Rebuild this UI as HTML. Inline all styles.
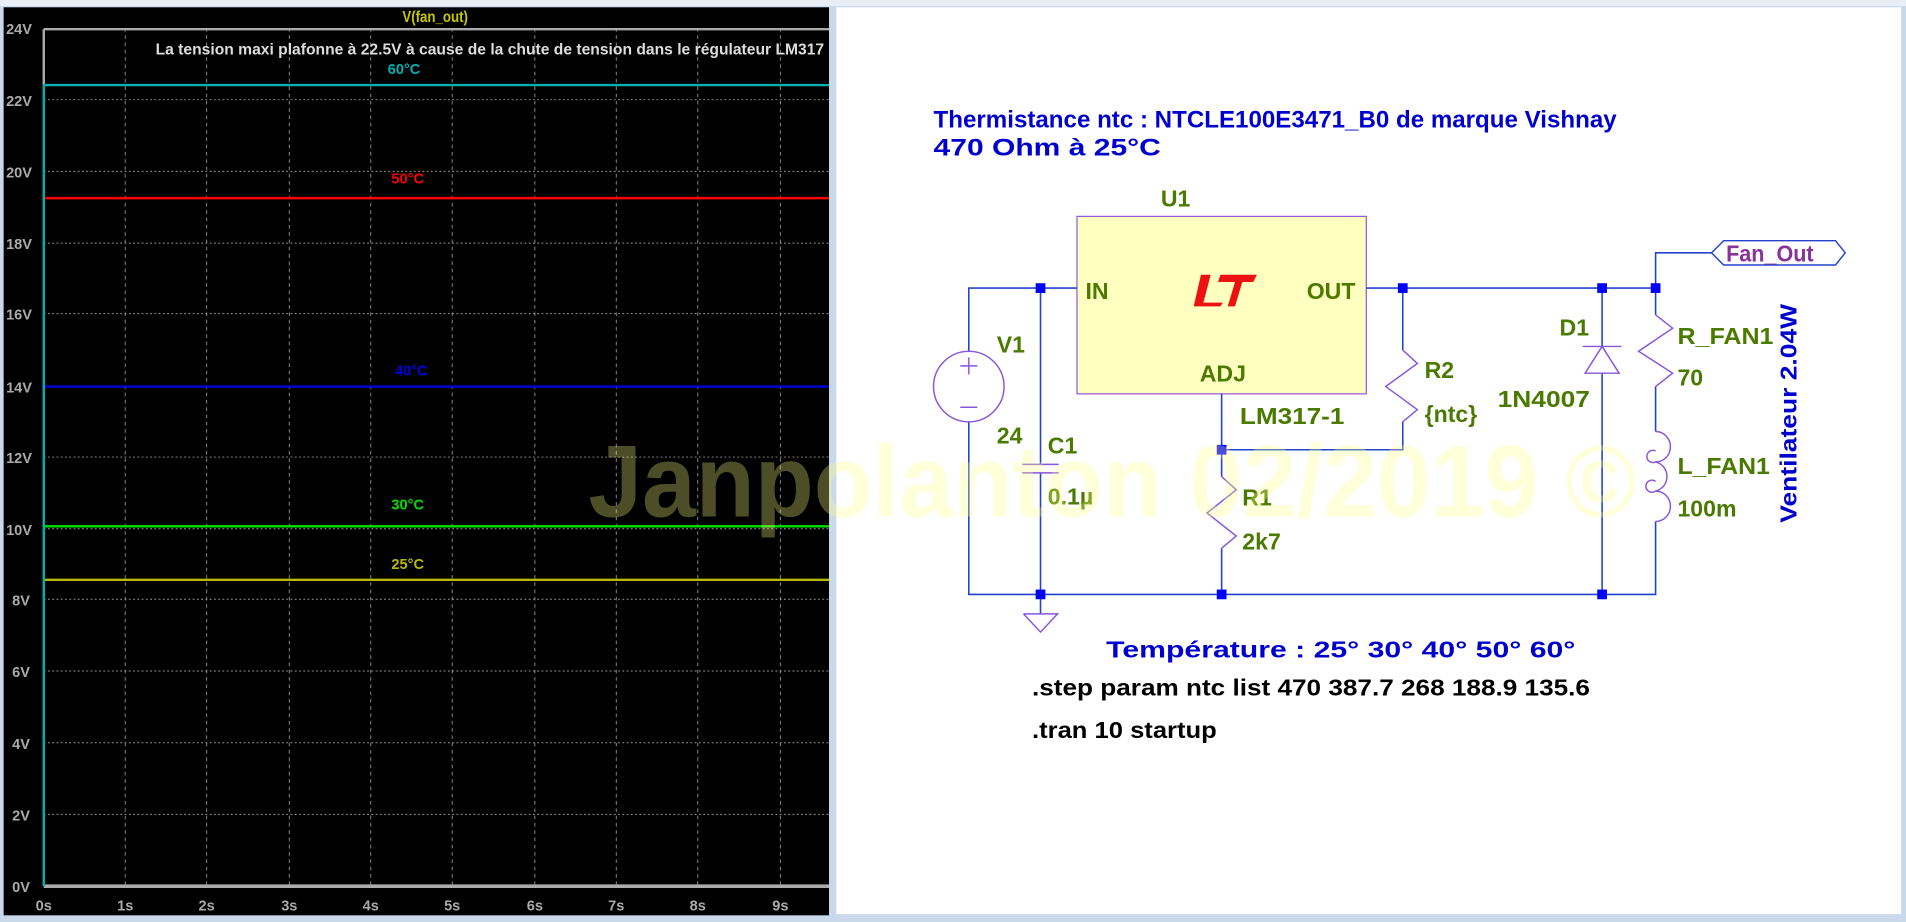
<!DOCTYPE html>
<html><head><meta charset="utf-8"><style>
html,body{margin:0;padding:0;background:#dbe6f2;overflow:hidden}
svg{display:block}
text{font-family:"Liberation Sans",sans-serif;font-weight:bold}
</style></head><body>
<svg width="1906" height="922" viewBox="0 0 1568 758.5" xmlns="http://www.w3.org/2000/svg">
<rect x="0" y="0" width="1568" height="758.5" fill="#c9d8ea"/>
<rect x="0" y="0" width="1568" height="5" fill="#e8eef6"/>
<!-- left plot -->
<rect x="3" y="6" width="679" height="747" fill="#000"/>
<text x="358" y="18" font-size="13" fill="#c8c800" text-anchor="middle" font-weight="normal" textLength="54" lengthAdjust="spacingAndGlyphs">V(fan_out)</text>
<g stroke="#888" stroke-width="0.8" stroke-dasharray="3,3">
<line x1="103" y1="23" x2="103" y2="729"/><line x1="170" y1="23" x2="170" y2="729"/><line x1="238" y1="23" x2="238" y2="729"/><line x1="305" y1="23" x2="305" y2="729"/><line x1="372" y1="23" x2="372" y2="729"/><line x1="440" y1="23" x2="440" y2="729"/><line x1="507" y1="23" x2="507" y2="729"/><line x1="574" y1="23" x2="574" y2="729"/><line x1="642" y1="23" x2="642" y2="729"/>
</g>
<g stroke="#999" stroke-width="0.8" stroke-dasharray="1.5,2">
<line x1="36" y1="82" x2="682" y2="82"/><line x1="36" y1="141" x2="682" y2="141"/><line x1="36" y1="200" x2="682" y2="200"/><line x1="36" y1="258" x2="682" y2="258"/><line x1="36" y1="376" x2="682" y2="376"/><line x1="36" y1="435" x2="682" y2="435"/><line x1="36" y1="493" x2="682" y2="493"/><line x1="36" y1="552" x2="682" y2="552"/><line x1="36" y1="611" x2="682" y2="611"/><line x1="36" y1="670" x2="682" y2="670"/>
</g>
<line x1="36" y1="24" x2="682" y2="24" stroke="#aaa" stroke-width="2"/>
<line x1="36" y1="24" x2="36" y2="70" stroke="#aaa" stroke-width="2"/>
<line x1="36" y1="729" x2="682" y2="729" stroke="#aaa" stroke-width="3"/>
<g font-size="12" fill="#aaa" font-weight="normal">
<text x="5" y="28">24V</text><text x="5" y="87">22V</text><text x="5" y="146">20V</text><text x="5" y="205">18V</text><text x="5" y="263">16V</text><text x="5" y="323">14V</text><text x="5" y="381">12V</text><text x="5" y="440">10V</text><text x="10" y="498">8V</text><text x="10" y="557">6V</text><text x="10" y="616">4V</text><text x="10" y="675">2V</text><text x="10" y="734">0V</text>
</g>
<g font-size="12" fill="#aaa" font-weight="normal" text-anchor="middle">
<text x="36" y="749">0s</text><text x="103" y="749">1s</text><text x="170" y="749">2s</text><text x="238" y="749">3s</text><text x="305" y="749">4s</text><text x="372" y="749">5s</text><text x="440" y="749">6s</text><text x="507" y="749">7s</text><text x="574" y="749">8s</text><text x="642" y="749">9s</text>
</g>
<g stroke-width="2">
<line x1="36" y1="70" x2="682" y2="70" stroke="#00b0b0"/>
<line x1="36" y1="163" x2="682" y2="163" stroke="#ff0000"/>
<line x1="36" y1="318" x2="682" y2="318" stroke="#0000e0"/>
<line x1="36" y1="433" x2="682" y2="433" stroke="#00e000"/>
<line x1="36" y1="477" x2="682" y2="477" stroke="#b8b800"/>
<line x1="36" y1="70" x2="36" y2="729" stroke="#00b0b0"/>
</g>
<text x="128" y="45" font-size="13" fill="#ddd" font-weight="normal" textLength="550" lengthAdjust="spacingAndGlyphs">La tension maxi plafonne à 22.5V à cause de la chute de tension dans le régulateur LM317</text>
<g font-size="12" font-weight="normal">
<text x="319" y="61" fill="#00b0b0">60°C</text>
<text x="322" y="151" fill="#ff0000">50°C</text>
<text x="325" y="309" fill="#0000e0">40°C</text>
<text x="322" y="419" fill="#00e000">30°C</text>
<text x="322" y="468" fill="#b8b800">25°C</text>
</g>
<!-- right schematic -->
<rect x="688" y="6" width="876" height="746" fill="#fff"/>
<text x="768" y="105" font-size="20" fill="#0000cc" textLength="562" lengthAdjust="spacingAndGlyphs">Thermistance ntc : NTCLE100E3471_B0 de marque  Vishnay</text>
<text x="768" y="128" font-size="20" fill="#0000cc" textLength="187" lengthAdjust="spacingAndGlyphs">470 Ohm à 25°C</text>
<rect x="886" y="178" width="238" height="146" fill="#ffffc0" stroke="#9955dd" stroke-width="1"/>
<g fill="#4a7a00" font-size="19">
<text x="955" y="170">U1</text>
<text x="893" y="246">IN</text>
<text x="1075" y="246">OUT</text>
<text x="987" y="314">ADJ</text>
<text x="1020" y="349" textLength="86" lengthAdjust="spacingAndGlyphs">LM317-1</text>
<text x="820" y="290">V1</text>
<text x="820" y="365">24</text>
<text x="862" y="373">C1</text>
<text x="862" y="415">0.1µ</text>
<text x="1022" y="416">R1</text>
<text x="1022" y="452">2k7</text>
<text x="1172" y="311">R2</text>
<text x="1172" y="347">{ntc}</text>
<text x="1232" y="335" textLength="76" lengthAdjust="spacingAndGlyphs">1N4007</text>
<text x="1283" y="276">D1</text>
<text x="1380" y="283" textLength="79" lengthAdjust="spacingAndGlyphs">R_FAN1</text>
<text x="1380" y="317">70</text>
<text x="1380" y="390" textLength="76" lengthAdjust="spacingAndGlyphs">L_FAN1</text>
<text x="1380" y="425">100m</text>
</g>
<path d="M988 226 L996 226 L990 249 L1006 249 L1004 252 L982 252 Z M1004 226 L1034 226 L1031 232 L1022 232 L1016 252 L1010 252 L1016 232 L1002 232 Z" fill="#ee1111"/>
<g stroke="#2244cc" stroke-width="1.3" fill="none">
<polyline points="886,237 797,237 797,289"/>
<polyline points="797,347 797,489 1362,489 1362,429"/>
<polyline points="1124,237 1362,237 1362,259"/>
<polyline points="1362,318 1362,355"/>
<polyline points="1362,237 1362,208 1408,208"/>
<line x1="856" y1="237" x2="856" y2="382"/>
<line x1="856" y1="389" x2="856" y2="505"/>
<polyline points="1005,324 1005,370 1154,370 1154,347"/>
<line x1="1154" y1="237" x2="1154" y2="288"/>
<line x1="1005" y1="370" x2="1005" y2="392"/>
<line x1="1005" y1="451" x2="1005" y2="489"/>
<line x1="1318" y1="237" x2="1318" y2="285"/>
<line x1="1318" y1="307" x2="1318" y2="489"/>
</g>
<g fill="#0000ff">
<rect x="852" y="233" width="8" height="8"/><rect x="1150" y="233" width="8" height="8"/><rect x="1314" y="233" width="8" height="8"/><rect x="1358" y="233" width="8" height="8"/>
<rect x="852" y="485" width="8" height="8"/><rect x="1001" y="485" width="8" height="8"/><rect x="1314" y="485" width="8" height="8"/><rect x="1001" y="366" width="8" height="8"/>
</g>
<g stroke="#8855dd" stroke-width="1.2" fill="none">
<circle cx="797" cy="318" r="29"/>
<line x1="790" y1="301" x2="804" y2="301"/><line x1="797" y1="294" x2="797" y2="308"/>
<line x1="790" y1="335" x2="804" y2="335"/>
<line x1="841" y1="382" x2="871" y2="382"/><line x1="841" y1="389" x2="871" y2="389"/>
<polyline points="842,505 870,505 856,520 842,505"/>
<polyline points="1154,288 1166,299 1140,318 1166,337 1154,347"/>
<polyline points="1005,392 1017,403 993,422 1017,441 1005,451"/>
<polyline points="1362,259 1376,270 1348,289 1376,307 1362,318"/>
<line x1="1302" y1="285" x2="1334" y2="285"/>
<polyline points="1318,285 1332,307 1304,307 1318,285"/>
<path d="M1362 355 A12 12.3 0 0 1 1362 380 A12 12.3 0 0 1 1362 404 A12 12.3 0 0 1 1362 429"/>
<path d="M1362 371 A5 5 0 1 0 1362 380 M1362 396 A5 5 0 1 0 1362 404"/>
</g>
<polygon points="1408,208 1418,198 1510,198 1518,208 1510,218 1418,218" fill="#fff" stroke="#2244cc" stroke-width="1.2"/>
<text x="1420" y="215" font-size="19" fill="#883399" textLength="72" lengthAdjust="spacingAndGlyphs">Fan_Out</text>
<text transform="translate(1478,430) rotate(-90)" font-size="19" fill="#0000cc" textLength="180" lengthAdjust="spacingAndGlyphs">Ventilateur 2.04W</text>
<text x="910" y="541" font-size="19" fill="#0000cc" textLength="386" lengthAdjust="spacingAndGlyphs">Température : 25°   30°  40°   50°    60°</text>
<text x="849" y="572" font-size="19" fill="#000" textLength="459" lengthAdjust="spacingAndGlyphs">.step param ntc list 470 387.7 268 188.9 135.6</text>
<text x="849" y="607" font-size="19" fill="#000" textLength="152" lengthAdjust="spacingAndGlyphs">.tran 10 startup</text>
<text x="484" y="425" font-size="84" fill="#ffff80" fill-opacity="0.3" textLength="862" lengthAdjust="spacingAndGlyphs">Janpolanton 02/2019 ©</text>
</svg>
</body></html>
